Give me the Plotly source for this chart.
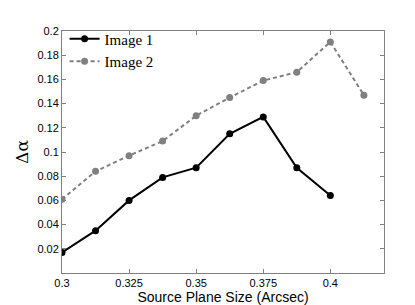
import plotly.graph_objects as go

sizes = [0.3, 0.3125, 0.325, 0.3375, 0.35, 0.3625, 0.375, 0.3875, 0.4, 0.4125]
image1 = [0.017, 0.035, 0.060, 0.079, 0.087, 0.115, 0.129, 0.087, 0.064]
image2 = [0.061, 0.084, 0.097, 0.109, 0.130, 0.145, 0.159, 0.166, 0.191, 0.147]
xticks = [0.3, 0.325, 0.35, 0.375, 0.4]
xticklabels = ["0.3", "0.325", "0.35", "0.375", "0.4"]
yticks = [0.02, 0.04, 0.06, 0.08, 0.1, 0.12, 0.14, 0.16, 0.18, 0.2]
yticklabels = ["0.02", "0.04", "0.06", "0.08", "0.1", "0.12", "0.14", "0.16", "0.18", "0.2"]

fig = go.Figure()
fig.add_trace(go.Scatter(x=sizes[:len(image1)], y=image1, name="Image 1", mode="lines+markers",
                         line=dict(color="black", width=2), marker=dict(color="black", size=7)))
fig.add_trace(go.Scatter(x=sizes, y=image2, name="Image 2", mode="lines+markers",
                         line=dict(color="#808080", width=2, dash="4px,3px"),
                         marker=dict(color="#808080", size=7)))

axis_common = dict(showgrid=False, zeroline=False, showline=True, linecolor="#808080", linewidth=1,
                   mirror="ticks", ticks="inside", ticklen=4, tickcolor="#808080",
                   tickfont=dict(family="Liberation Sans, Arial", size=11, color="black"))
fig.update_xaxes(range=[0.3, 0.42], tickvals=xticks, ticktext=xticklabels,
                 title=dict(text="Source Plane Size (Arcsec)", font=dict(family="Liberation Sans, Arial", size=14, color="black"), standoff=2),
                 **axis_common)
fig.update_yaxes(range=[0, 0.2], tickvals=yticks, ticktext=yticklabels,
                 title=dict(text="Δα", font=dict(family="DejaVu Serif, Liberation Serif", size=17, color="black"), standoff=4),
                 **axis_common)
fig.update_layout(width=415, height=305, margin=dict(l=54, r=39, t=23, b=34),
                  plot_bgcolor="white", paper_bgcolor="white", showlegend=True,
                  legend=dict(x=0.008, y=1.035, xanchor="left", yanchor="top", bgcolor="rgba(0,0,0,0)",
                              font=dict(family="Liberation Serif, DejaVu Serif", size=15, color="black"),
                              itemwidth=30, tracegroupgap=0))
fig.write_html("out.html")
